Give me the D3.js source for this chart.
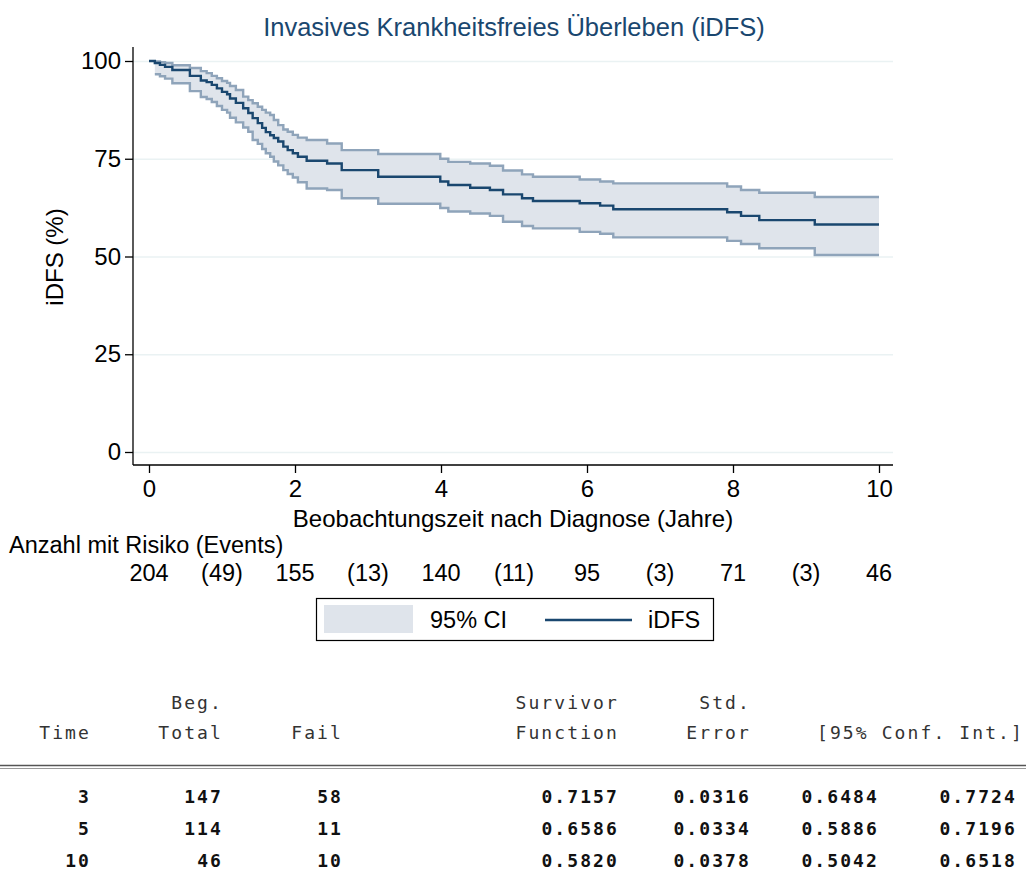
<!DOCTYPE html>
<html>
  <head>
    <meta charset="utf-8">
    <script src="https://d3js.org/d3.v7.min.js"></script>
    <title>iDFS</title>
    <style>
      body { margin: 0px; background: #fff; }
      svg { font-family: 'Liberation Sans', Arial, sans-serif; }
      .domain { stroke: #000; stroke-width: 1.3; }
      .tick line { stroke: #000; stroke-width: 1.3; }
      .tick text { fill: #000; font-size: 24px; }
      .grid line { stroke: #eaf2f3; stroke-width: 1.5; }
      .grid .domain { display: none; }
      .mono { font-family: 'DejaVu Sans Mono', monospace; font-size: 18px; letter-spacing: 2.1px; fill: #333; }
    </style>
  </head>
  <body>
    <svg width="1026" height="889"></svg>
    <script>

      // Kaplan-Meier estimate (percent) at each event time (years)
      const times = [0, 0.08, 0.15, 0.22, 0.32, 0.56, 0.71, 0.79, 0.86, 0.93, 1.00, 1.07,
        1.11, 1.19, 1.29, 1.36, 1.42, 1.49, 1.55, 1.60, 1.66, 1.71, 1.77, 1.84, 1.90, 1.97, 2.04,
        2.16, 2.44, 2.64, 3.14, 3.99, 4.10, 4.40, 4.67, 4.85, 5.11, 5.26, 5.90, 6.18, 6.36,
        7.92, 8.11, 8.36, 9.12];
      const survival = [100, 99.5, 99.0, 98.5, 97.7, 96.2, 95.0, 94.6, 93.9, 93.0, 92.1, 91.5,
        90.4, 89.3, 87.9, 86.7, 85.4, 84.1, 82.9, 81.8, 81.0, 80.3, 79.4, 78.1, 77.2, 76.4, 75.5,
        74.5, 73.8, 72.1, 70.4, 69.2, 68.3, 67.6, 67.0, 65.9, 64.9, 64.2, 63.6, 63.0, 62.1,
        61.3, 60.4, 59.3, 58.2];
      const ciLower = [null, 96.6, 96.1, 95.5, 94.3, 92.3, 90.8, 90.3, 89.5, 88.5, 87.5, 86.8,
        85.5, 84.3, 83.0, 81.9, 79.8, 78.8, 77.5, 76.4, 75.5, 74.3, 73.3, 72.1, 71.1, 70.2, 69.0,
        67.4, 67.0, 64.9, 63.5, 62.4, 61.5, 61.0, 60.4, 58.9, 57.8, 57.2, 56.3, 55.8, 54.9,
        54.0, 53.2, 52.1, 50.4];
      const ciUpper = [null, 99.9, 99.7, 99.5, 98.9, 98.2, 97.4, 96.9, 96.2, 95.6, 94.9, 94.4,
        93.6, 92.6, 90.9, 90.0, 89.2, 88.3, 87.5, 86.8, 86.2, 84.9, 83.6, 82.5, 81.9, 81.1, 80.4,
        79.8, 78.9, 77.2, 76.2, 75.0, 74.2, 73.8, 73.2, 72.0, 71.0, 70.4, 69.7, 69.2, 68.7,
        67.9, 67.0, 66.3, 65.2];
      const lastTime = 10;

      // risk table under the plot
      const riskYears = [0, 2, 4, 6, 8, 10];
      const atRisk = [204, 155, 140, 95, 71, 46];
      const eventYears = [1, 3, 5, 7, 9];
      const events = [49, 13, 11, 3, 3];

      // life table printout
      const tabTime = [3, 5, 10];
      const tabTotal = [147, 114, 46];
      const tabFail = [58, 11, 10];
      const tabSurv = ['0.7157', '0.6586', '0.5820'];
      const tabSE = ['0.0316', '0.0334', '0.0378'];
      const tabLo = ['0.6484', '0.5886', '0.5042'];
      const tabHi = ['0.7724', '0.7196', '0.6518'];

      const navy = '#1a476f';
      const bandFill = '#dfe4eb';
      const bandLine = '#8fa4ba';

      const svg = d3.select('svg');

      const xScale = d3.scaleLinear().domain([0, 10]).range([149, 879]);
      const yScale = d3.scaleLinear().domain([0, 100]).range([452, 61]);

      const data = times.map((t, i) => ({ t, s: survival[i], lo: ciLower[i], hi: ciUpper[i] }));
      const last = data[data.length - 1];
      data.push({ t: lastTime, s: last.s, lo: last.lo, hi: last.hi });
      const ciData = data.filter(d => d.lo !== null);

      // title
      svg.append('text')
          .attr('x', 514).attr('y', 36)
          .attr('text-anchor', 'middle')
          .attr('fill', navy)
          .style('font-size', '25.5px')
          .text('Invasives Krankheitsfreies Überleben (iDFS)');

      // grid
      svg.append('g')
          .attr('class', 'grid')
          .attr('transform', 'translate(133,0)')
          .call(d3.axisRight(yScale).tickValues([0, 25, 50, 75, 100]).tickSize(760).tickFormat(''));

      // CI band
      svg.append('path')
          .datum(ciData)
          .attr('fill', bandFill)
          .attr('d', d3.area().curve(d3.curveStepAfter)
            .x(d => xScale(d.t)).y0(d => yScale(d.lo)).y1(d => yScale(d.hi)));

      const stepLine = key => d3.line().curve(d3.curveStepAfter)
          .x(d => xScale(d.t)).y(d => yScale(d[key]));

      ['lo', 'hi'].forEach(k => {
        svg.append('path')
            .datum(ciData)
            .attr('fill', 'none')
            .attr('stroke', bandLine)
            .attr('stroke-width', 2.4)
            .attr('d', stepLine(k));
      });

      svg.append('path')
          .datum(data)
          .attr('fill', 'none')
          .attr('stroke', navy)
          .attr('stroke-width', 2.4)
          .attr('d', stepLine('s'));

      // axes
      const yAxisG = svg.append('g')
          .attr('transform', 'translate(133,0)')
          .call(d3.axisLeft(yScale).tickValues([0, 25, 50, 75, 100]).tickSize(8).tickPadding(4).tickSizeOuter(0));
      yAxisG.select('.domain').attr('d', 'M0,47V465');

      const xAxisG = svg.append('g')
          .attr('transform', 'translate(0,465)')
          .call(d3.axisBottom(xScale).tickValues([0, 2, 4, 6, 8, 10]).tickSize(8).tickPadding(7).tickSizeOuter(0));
      xAxisG.select('.domain').attr('d', 'M133,0H893');

      svg.append('text')
          .attr('x', 513).attr('y', 527)
          .attr('text-anchor', 'middle')
          .style('font-size', '24px')
          .text('Beobachtungszeit nach Diagnose (Jahre)');

      svg.append('text')
          .attr('transform', 'translate(63,257) rotate(-90)')
          .attr('text-anchor', 'middle')
          .style('font-size', '24px')
          .text('iDFS (%)');

      // risk table
      svg.append('text')
          .attr('x', 9).attr('y', 553)
          .style('font-size', '23.5px')
          .text('Anzahl mit Risiko (Events)');

      svg.append('g').selectAll('text').data(atRisk).join('text')
          .attr('x', (d, i) => xScale(riskYears[i]))
          .attr('y', 581)
          .attr('text-anchor', 'middle')
          .style('font-size', '23.5px')
          .text(d => d);

      svg.append('g').selectAll('text').data(events).join('text')
          .attr('x', (d, i) => xScale(eventYears[i]))
          .attr('y', 581)
          .attr('text-anchor', 'middle')
          .style('font-size', '23.5px')
          .text(d => `(${d})`);

      // legend
      const lg = svg.append('g');
      lg.append('rect')
          .attr('x', 316.5).attr('y', 598.5).attr('width', 397).attr('height', 42)
          .attr('fill', '#fff').attr('stroke', '#000').attr('stroke-width', 1.2);
      lg.append('rect')
          .attr('x', 324).attr('y', 605).attr('width', 89).attr('height', 28)
          .attr('fill', bandFill);
      lg.append('text')
          .attr('x', 430).attr('y', 628)
          .style('font-size', '23.5px')
          .text('95% CI');
      lg.append('line')
          .attr('x1', 545).attr('x2', 632).attr('y1', 620).attr('y2', 620)
          .attr('stroke', navy).attr('stroke-width', 2.4);
      lg.append('text')
          .attr('x', 648).attr('y', 628)
          .style('font-size', '23.5px')
          .text('iDFS');

      // life table
      const tbl = svg.append('g');
      const cell = (txt, x, y, bold) => tbl.append('text')
          .attr('class', 'mono')
          .attr('x', x).attr('y', y)
          .attr('text-anchor', 'end')
          .style('font-weight', bold ? 'bold' : 'normal')
          .style('fill', bold ? '#111' : '#333')
          .text(txt);

      cell('Beg.', 223, 709);
      cell('Survivor', 619, 709);
      cell('Std.', 751, 709);
      cell('Time', 91, 739);
      cell('Total', 223, 739);
      cell('Fail', 343, 739);
      cell('Function', 619, 739);
      cell('Error', 751, 739);
      cell('[95% Conf. Int.]', 1024, 739);

      tbl.append('line').attr('x1', 0).attr('x2', 1026).attr('y1', 765.5).attr('y2', 765.5)
          .attr('stroke', '#555').attr('stroke-width', 1.5);
      tbl.append('line').attr('x1', 0).attr('x2', 1026).attr('y1', 768.5).attr('y2', 768.5)
          .attr('stroke', '#999').attr('stroke-width', 1);

      tabTime.forEach((t, i) => {
        const y = 803 + i * 32;
        cell(t, 91, y, true);
        cell(tabTotal[i], 223, y, true);
        cell(tabFail[i], 343, y, true);
        cell(tabSurv[i], 619, y, true);
        cell(tabSE[i], 751, y, true);
        cell(tabLo[i], 879, y, true);
        cell(tabHi[i], 1017, y, true);
      });
    </script>
  </body>
</html>
